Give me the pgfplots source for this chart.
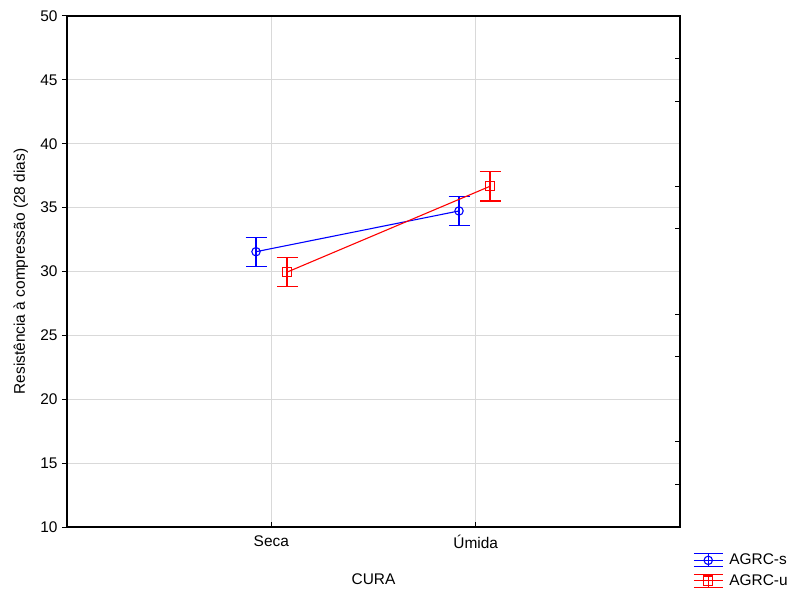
\documentclass[border=0pt]{standalone}
\usepackage{pgfplots}
\pgfplotsset{compat=1.18}
\usepackage{fontspec}
\setmainfont{Liberation Sans}

\definecolor{serieS}{RGB}{0,0,255}
\definecolor{serieU}{RGB}{255,0,0}

\begin{document}
\begin{tikzpicture}
% page extent around the 613 x 511 plot box
\useasboundingbox (-67bp,-63bp) rectangle (726bp,527bp);

% secondary right-hand scale (ticks only)
\begin{axis}[
  at={(0,0)}, anchor=south west,
  scale only axis, width=613bp, height=511bp,
  xmin=-1, xmax=2, ymin=10, ymax=50,
  axis x line=none, axis y line*=right,
  axis line style={line width=1.2bp, black, -},
  ytick={10,13.3333,16.6667,20,23.3333,26.6667,30,33.3333,36.6667,40,43.3333,46.6667,50},
  yticklabels={},
  ytick align=inside, major tick length=5bp,
  every tick/.style={black, line width=1bp},
]
\end{axis}

\begin{axis}[
  at={(0,0)}, anchor=south west,
  scale only axis, width=613bp, height=511bp,
  xmin=-1, xmax=2, ymin=10, ymax=50,
  font=\fontsize{15.5}{18}\selectfont,
  /pgf/number format/assume math mode=true,
  axis line style={line width=1.2bp, black},
  xtick={0,1}, xticklabels={Seca,Úmida},
  ytick={10,15,...,50},
  xtick pos=bottom, ytick pos=left,
  xtick align=inside, ytick align=outside,
  major tick length=5bp,
  every tick/.style={black, line width=1bp},
  xticklabel style={yshift=-5bp},
  yticklabel style={xshift=-1bp},
  grid=major,
  major grid style={line width=1bp, color=black!15},
  xlabel={CURA},
  ylabel={Resistência à compressão (28 dias)},
  every axis x label/.style={at={(axis description cs:0.5,0)}, anchor=base, yshift=-57bp},
  every axis y label/.style={at={(axis description cs:0,0.5)}, rotate=90, anchor=base, yshift=42bp},
  legend style={at={(axis description cs:1,0)}, anchor=north west,
    xshift=13bp, yshift=-25bp, draw=none, fill=none,
    inner sep=0pt, row sep=4bp,
    font=\fontsize{15.5}{18}\selectfont},
  legend cell align=left,
  legend image code/.code={
    \draw[#1,mark=none] (0bp,0bp) -- (29bp,0bp);
    \draw[#1,mark=none] (0bp,6.5bp) -- (29bp,6.5bp);
    \draw[#1,mark=none] (0bp,-6.5bp) -- (29bp,-6.5bp);
    \draw[#1,mark=none] (14.5bp,-6.5bp) -- (14.5bp,6.5bp);
    \draw[#1,only marks] plot coordinates {(14.5bp,0bp)};
    \path (33bp,0bp);
  },
]
% means with their confidence intervals; the two groups are dodged sideways
\addplot[serieS, line width=1.1bp, mark=o, mark size=4.2bp,
  mark options={solid, line width=1.1bp},
  error bars/.cd, y dir=both, y explicit,
  error bar style={line width=1.1bp, draw=serieS},
  error mark options={rotate=90, mark size=10.5bp, line width=1.1bp, draw=serieS}]
  coordinates {
    (-0.075,31.55) +- (0,1.14)
    (0.9185,34.74) +- (0,1.15)
  };
\addlegendentry{AGRC-s}
\addplot[serieU, line width=1.1bp, mark=square, mark size=4.6bp,
  mark options={solid, line width=1.1bp},
  error bars/.cd, y dir=both, y explicit,
  error bar style={line width=1.1bp, draw=serieU},
  error mark options={rotate=90, mark size=10.5bp, line width=1.1bp, draw=serieU}]
  coordinates {
    (0.0767,29.95) +- (0,1.14)
    (1.0702,36.67) +- (0,1.15)
  };
\addlegendentry{AGRC-u}
\end{axis}
\end{tikzpicture}
\end{document}
